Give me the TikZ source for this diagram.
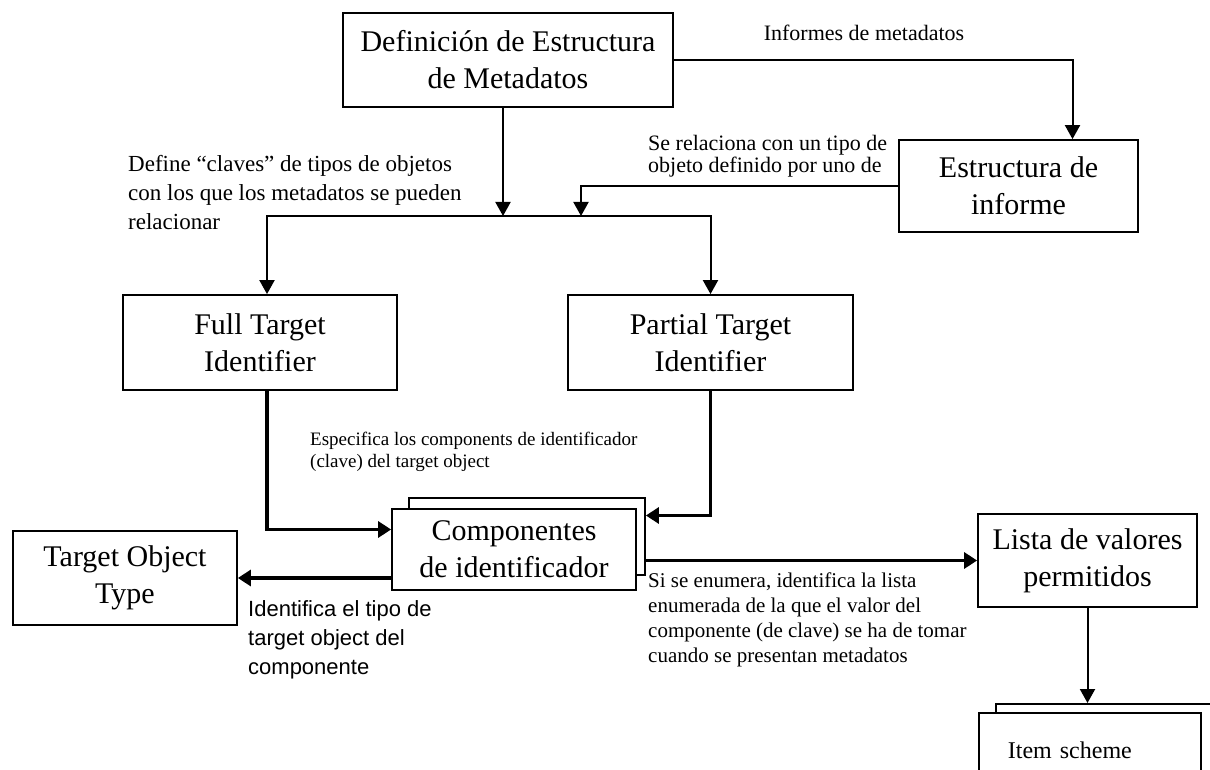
\documentclass[tikz,border=0pt]{standalone}
\usepackage{fontspec}
\setmainfont{Liberation Serif}
\newfontfamily\sanslabel{Liberation Sans}
\usetikzlibrary{arrows.meta}

\begin{document}
\begin{tikzpicture}[x=1pt,y=-1pt,
    caja/.style={draw,line width=1.8pt,fill=white,align=center,inner sep=0pt,
      font=\fontsize{30}{37}\selectfont},
    fino/.style={line width=2pt,-{Triangle[length=14pt,width=15pt]}},
    grueso/.style={line width=3.8pt,-{Triangle[length=13pt,width=16pt]}},
    nota/.style={align=left,inner sep=0pt,anchor=west}]
    % Marco de la figura
    \clip (0,0) rectangle (1210,770);
    % Cajas principales
    \node[caja,minimum width=330pt,minimum height=94pt] (def) at (508,60) {Definición de Estructura\\de Metadatos};
    \node[caja,minimum width=239pt,minimum height=92pt] (inf) at (1018.5,186) {Estructura de\\informe};
    \node[caja,minimum width=274pt,minimum height=95pt] (full) at (260,342.5) {Full Target\\Identifier};
    \node[caja,minimum width=285pt,minimum height=95pt] (part) at (710.5,342.5) {Partial Target\\Identifier};
    \node[caja,minimum width=236pt,minimum height=77pt] (compb) at (527,536.5) {};
    \node[caja,minimum width=244pt,minimum height=81pt] (compf) at (514,549.5) {Componentes\\de identificador};
    \node[caja,minimum width=224pt,minimum height=94pt] (tot) at (125,578) {Target Object\\Type};
    \node[caja,minimum width=219pt,minimum height=93pt] (lista) at (1087.5,560.5) {Lista de valores\\permitidos};
    \node[caja,anchor=north west,minimum width=240pt,minimum height=90pt] (itemb) at (995,703) {};
    \node[caja,anchor=north west,minimum width=222pt,minimum height=74pt,text width=164pt,align=left,
      font=\fontsize{24}{28}\selectfont] (itemf) at (978,712) {Item scheme};
    % Puntos de reparto
    \coordinate (reparto) at (503,216);
    \coordinate (union) at (581,216);
    % Flechas de arriba
    \draw[fino] (def.east) -| ([xshift=54pt]inf.north);
    \draw[fino] ([xshift=-5pt]def.south) -- (reparto);
    \draw[fino] (inf.west) -| (union);
    \draw[fino] (reparto) -| ([xshift=7pt]full.north);
    \draw[fino] (reparto) -| (part.north);
    % Flechas gruesas
    \draw[grueso] ([xshift=7pt]full.south) |- ([yshift=20pt]compf.west);
    \draw[grueso] (part.south) |- ([yshift=21pt]compb.east);
    \draw[grueso] (compf.west |- tot.east) -- (tot.east);
    \draw[grueso] (compb.east |- lista.west) -- (lista.west);
    \draw[fino] (lista.south) -- (lista.south |- itemb.north);
    % Etiquetas
    \node[font=\fontsize{22}{29}\selectfont] (informes) at (864,33) {Informes de metadatos};
    \node[nota,font=\fontsize{22}{22}\selectfont] (relaciona) at (648,156.5) {Se relaciona con un tipo de\\objeto definido por uno de};
    \node[nota,font=\fontsize{23}{29}\selectfont] (claves) at (128,193) {Define “claves” de tipos de objetos\\con los que los metadatos se pueden\\relacionar};
    \node[nota,font=\fontsize{19}{22}\selectfont] (especifica) at (310,452) {Especifica los components de identificador\\(clave) del target object};
    \node[nota,font=\sanslabel\fontsize{22}{29}\selectfont] (identifica) at (248,640) {Identifica el tipo de\\target object del\\componente};
    \node[nota,font=\fontsize{21}{25}\selectfont] (enumera) at (648,620) {Si se enumera, identifica la lista\\enumerada de la que el valor del\\componente (de clave) se ha de tomar\\cuando se presentan metadatos};
\end{tikzpicture}
\end{document}
